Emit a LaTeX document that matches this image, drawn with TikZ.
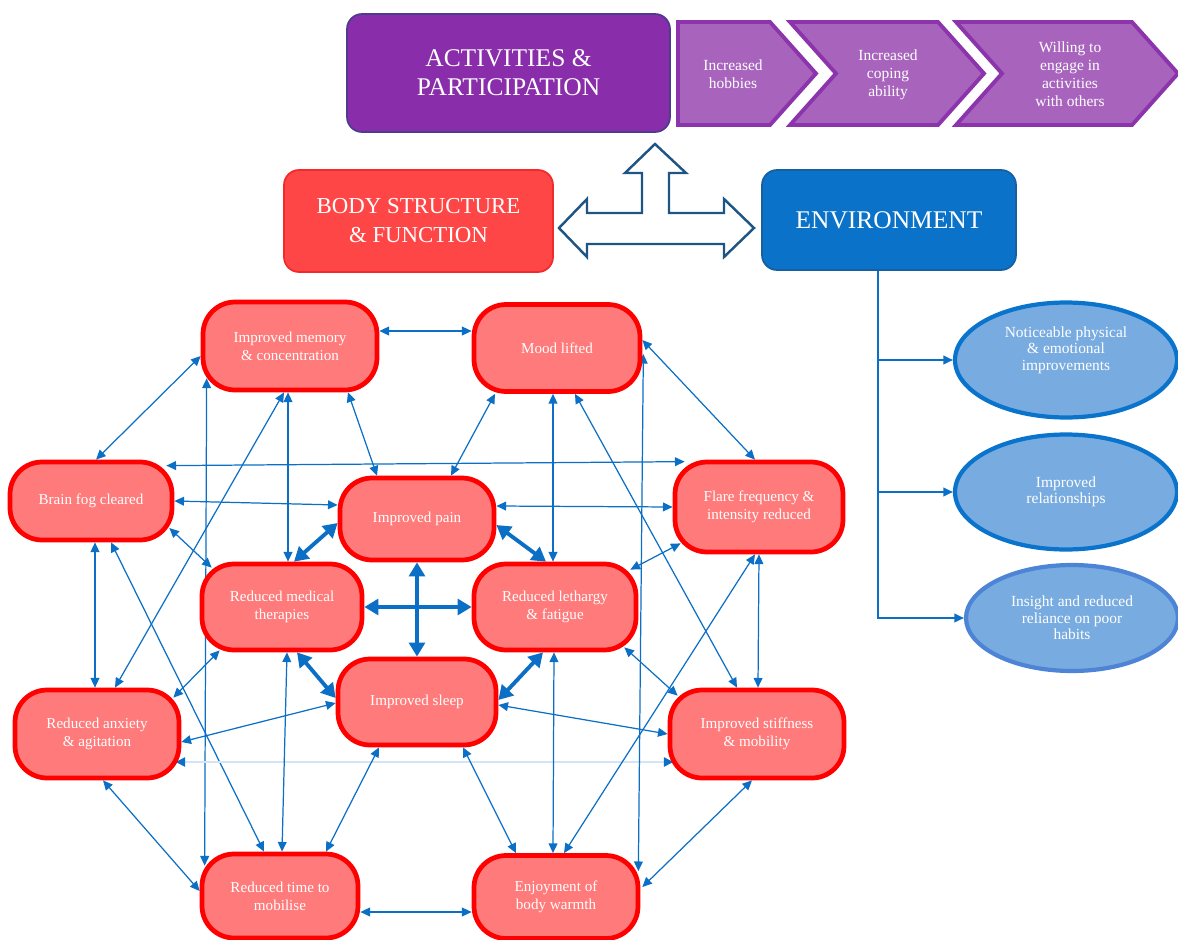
\documentclass[tikz,border=0pt]{standalone}
\usepackage{fontspec}
\setmainfont{Liberation Serif}
\usetikzlibrary{arrows.meta,calc,backgrounds,shapes.geometric}
\definecolor{netblue}{HTML}{0B6FC6}
\definecolor{palelink}{HTML}{D3E4F6}
\definecolor{redfill}{HTML}{FF7A7A}
\definecolor{redline}{HTML}{FF0000}
\definecolor{bodyred}{HTML}{FF4646}
\definecolor{bodyline}{HTML}{F22A2A}
\definecolor{envblue}{HTML}{0A72C8}
\definecolor{envline}{HTML}{1660A2}
\definecolor{actpurple}{HTML}{8A2DAA}
\definecolor{actline}{HTML}{4E3A8E}
\definecolor{chevfill}{HTML}{A864BD}
\definecolor{chevline}{HTML}{8C34AC}
\definecolor{ovalfill}{HTML}{78ABE0}
\definecolor{ovalline}{HTML}{0A74CC}
\definecolor{ovallight}{HTML}{4E84D6}
\definecolor{hollowline}{HTML}{1F5585}
\begin{document}
\begin{tikzpicture}
[x=0.02cm,y=-0.02cm,
  boxdecorate/.style={draw=redline,line width=2.7pt,fill=redfill,rounded corners=0.64cm,
    minimum width=3.25cm,minimum height=1.7cm,align=center,text=white,
    font=\fontsize{8.6}{10.3}\selectfont,inner sep=2pt},
  headdecorate/.style={rounded corners=0.3cm,align=center,text=white,
    font=\fontsize{14.5}{16.5}\selectfont,line width=1pt},
  chevrondecorate/.style={draw=chevline,line width=2.2pt,fill=chevfill,line join=miter},
  chevtextdecorate/.style={align=center,text=white,font=\fontsize{8.8}{10.2}\selectfont},
  ovaldecorate/.style={ellipse,draw=ovalline,line width=2.4pt,fill=ovalfill,
    minimum width=4.44cm,minimum height=2.3cm,align=center,text=white,
    font=\fontsize{8.8}{9.4}\selectfont,inner sep=0pt},
  linedecorate/.style={draw=netblue,line width=0.7pt,
    {Triangle[length=5.5pt,width=5pt]}-{Triangle[length=5.5pt,width=5pt]}},
  thickdecorate/.style={draw=netblue,line width=2.2pt,
    {Triangle[length=8pt,width=9pt]}-{Triangle[length=8pt,width=9pt]}},
  paledecorate/.style={draw=palelink,line width=1.4pt,
    {Triangle[length=5.5pt,width=5pt,color=netblue]}-{Triangle[length=5.5pt,width=5pt,color=netblue]}},
  envdecorate/.style={draw=netblue,line width=1pt,-{Triangle[length=5.5pt,width=5pt]}},
  hollowdecorate/.style={draw=hollowline,line width=1.4pt,fill=white,line join=miter}]
\useasboundingbox (0,0) rectangle (1178,940);
%%% headings
\node (activities) at (508.5,73) [headdecorate,fill=actpurple,draw=actline,
  minimum width=6.46cm,minimum height=2.36cm] {ACTIVITIES \&\\PARTICIPATION};
\node (body) at (418.5,221) [headdecorate,fill=bodyred,draw=bodyline,
  minimum width=5.38cm,minimum height=2.04cm,font=\fontsize{13}{16.5}\selectfont] {BODY STRUCTURE\\\& FUNCTION};
\node (env) at (889,220) [headdecorate,fill=envblue,draw=envline,
  minimum width=5.08cm,minimum height=2cm] {ENVIRONMENT};
% chevrons
\draw[chevrondecorate] (678,22) -- (770,22) -- (816,73.5) -- (770,125) -- (678,125) -- cycle;
\draw[chevrondecorate] (790,22) -- (938,22) -- (984,73.5) -- (938,125) -- (790,125) -- (836,73.5) -- cycle;
\draw[chevrondecorate] (956,22) -- (1132,22) -- (1178,73.5) -- (1132,125) -- (956,125) -- (1002,73.5) -- cycle;
\node (hobbies) at (733,74) [chevtextdecorate] {Increased\\hobbies};
\node (coping) at (888,75) [chevtextdecorate] {Increased\\coping\\ability};
\node (willing) at (1070,74) [chevtextdecorate] {Willing to\\engage in\\activities\\with others};
% hollow three-way arrow
\draw[hollowdecorate] (655,144) -- (686,173) -- (669,173) -- (669,213) -- (724,213) -- (724,199)
  -- (754,228) -- (724,257) -- (724,244) -- (587,244) -- (587,257) -- (559,228) -- (587,199)
  -- (587,213) -- (642,213) -- (642,173) -- (625,173) -- cycle;
%%% environment outcomes
\node (notice) at (1066,360) [ovaldecorate] {Noticeable physical\\\& emotional\\improvements\\[4pt]};
\node (relation) at (1066,492) [ovaldecorate] {Improved\\relationships};
\node (insight) at (1072,618) [ovaldecorate,draw=ovallight,minimum width=4.24cm,minimum height=2.12cm]
  {Insight and reduced\\reliance on poor\\habits};
\coordinate (trunk) at ($(env.south)+(-11,0)$);
\draw[envdecorate] (trunk) |- (insight.west);
\draw[envdecorate] (trunk |- notice.west) -- (notice.west);
\draw[envdecorate] (trunk |- relation.west) -- (relation.west);
%%% body structure network
% nodes
\node (memory) at (290,346) [boxdecorate,minimum width=3.48cm,minimum height=1.76cm] {Improved memory\\\& concentration};
\node (mood) at (557,348) [boxdecorate,minimum width=3.32cm,minimum height=1.74cm] {Mood lifted};
\node (brainfog) at (91,501) [boxdecorate,minimum width=3.24cm,minimum height=1.56cm] {Brain fog cleared};
\node (pain) at (417,519) [boxdecorate,minimum width=3.08cm,minimum height=1.64cm] {Improved pain};
\node (flare) at (759,507) [boxdecorate,minimum width=3.36cm,minimum height=1.8cm] {Flare frequency \&\\intensity reduced};
\node (medical) at (282,607) [boxdecorate,minimum width=3.2cm,minimum height=1.72cm] {Reduced medical\\therapies};
\node (lethargy) at (555,607) [boxdecorate,minimum width=3.24cm,minimum height=1.72cm] {Reduced lethargy\\\& fatigue};
\node (sleep) at (417,702) [boxdecorate,minimum width=3.16cm,minimum height=1.72cm] {Improved sleep};
\node (anxiety) at (97,734) [boxdecorate,minimum width=3.28cm,minimum height=1.76cm] {Reduced anxiety\\\& agitation};
\node (stiffness) at (757,734) [boxdecorate,minimum width=3.48cm,minimum height=1.76cm] {Improved stiffness\\\& mobility};
\node (mobilise) at (280,896) [boxdecorate,minimum width=3.12cm,minimum height=1.68cm] {Reduced time to\\mobilise};
\node (warmth) at (556,897) [boxdecorate,minimum width=3.28cm,minimum height=1.66cm] {Enjoyment of\\body warmth};
% edges or lines
\begin{pgfonlayer}{background}
\path
($(memory.east)+(0,-15)$) edge[linedecorate] ($(mood.west)+(0,-17)$)
($(memory.west)+(0,10)$) edge[linedecorate] ($(brainfog.north)+(5,0)$)
($(mood.east)+(0,-8)$) edge[linedecorate] ($(flare.north)+(-4,0)$)
($(memory.south)+(58,0)$) edge[linedecorate] ($(pain.north)+(-40,0)$)
($(mood.south)+(-62,0)$) edge[linedecorate] ($(pain.north)+(34,0)$)
($(brainfog.north east)+(-8,6)$) edge[linedecorate] ($(flare.north west)+(12,2)$)
(brainfog.east) edge[linedecorate] ($(pain.west)+(0,-14)$)
($(pain.east)+(0,-13)$) edge[linedecorate] (flare.west)
($(memory.south)+(-2,0)$) edge[linedecorate] ($(medical.north)+(6,0)$)
($(mood.south)+(-4,0)$) edge[linedecorate] ($(lethargy.north)+(-2,0)$)
($(memory.south)+(-6,0)$) edge[linedecorate] ($(anxiety.north)+(18,0)$)
($(brainfog.south)+(4,0)$) edge[linedecorate] ($(anxiety.north)+(-2,0)$)
($(brainfog.south)+(20,0)$) edge[linedecorate] ($(mobilise.north)+(-16,0)$)
($(brainfog.east)+(-5,27)$) edge[linedecorate] ($(medical.north west)+(12,6)$)
($(memory.south west)+(6,-14)$) edge[linedecorate] ($(mobilise.north west)+(5,14)$)
($(medical.south west)+(20,-2)$) edge[linedecorate] ($(anxiety.north east)+(-8,10)$)
($(sleep.west)+(0,1)$) edge[linedecorate] ($(anxiety.east)+(0,8)$)
($(anxiety.east)+(-6,28)$) edge[paledecorate] ($(stiffness.west)+(6,28)$)
($(sleep.east)+(0,3)$) edge[linedecorate] (stiffness.west)
($(anxiety.south)+(6,0)$) edge[linedecorate] ($(mobilise.west)+(0,-5)$)
($(medical.south)+(5,0)$) edge[linedecorate] ($(mobilise.north)+(2,0)$)
($(sleep.south)+(-38,0)$) edge[linedecorate] ($(mobilise.north)+(46,0)$)
($(sleep.south)+(46,0)$) edge[linedecorate] ($(warmth.north)+(-40,0)$)
($(lethargy.south)+(-1,0)$) edge[linedecorate] ($(warmth.north)+(-3,0)$)
($(mobilise.east)+(0,16)$) edge[linedecorate] ($(warmth.west)+(0,15)$)
($(warmth.east)+(2,-10)$) edge[linedecorate] ($(stiffness.south)+(-5,0)$)
($(lethargy.south east)+(-14,-5)$) edge[linedecorate] ($(stiffness.north west)+(10,8)$)
($(lethargy.north east)+(-8,8)$) edge[linedecorate] ($(flare.south west)+(8,-11)$)
($(flare.south)+(-4,0)$) edge[linedecorate] ($(warmth.north)+(8,0)$)
(flare.south) edge[linedecorate] ($(stiffness.north)+(1,0)$)
($(mood.south)+(18,0)$) edge[linedecorate] ($(stiffness.north)+(-20,0)$)
($(mood.east)+(1,6)$) edge[linedecorate] ($(warmth.north east)+(-2,18)$);
% thick links
\path
($(pain.west)+(0,4)$) edge[thickdecorate] ($(medical.north)+(12,0)$)
($(pain.east)+(0,6)$) edge[thickdecorate] ($(lethargy.north)+(-9,0)$)
(medical.east) edge[thickdecorate] (lethargy.west)
(pain.south) edge[thickdecorate] (sleep.north)
($(medical.south)+(15,0)$) edge[thickdecorate] ($(sleep.west)+(0,-4)$)
($(lethargy.south)+(-12,0)$) edge[thickdecorate] ($(sleep.east)+(0,-2)$);
\end{pgfonlayer}
\end{tikzpicture}
\end{document}
